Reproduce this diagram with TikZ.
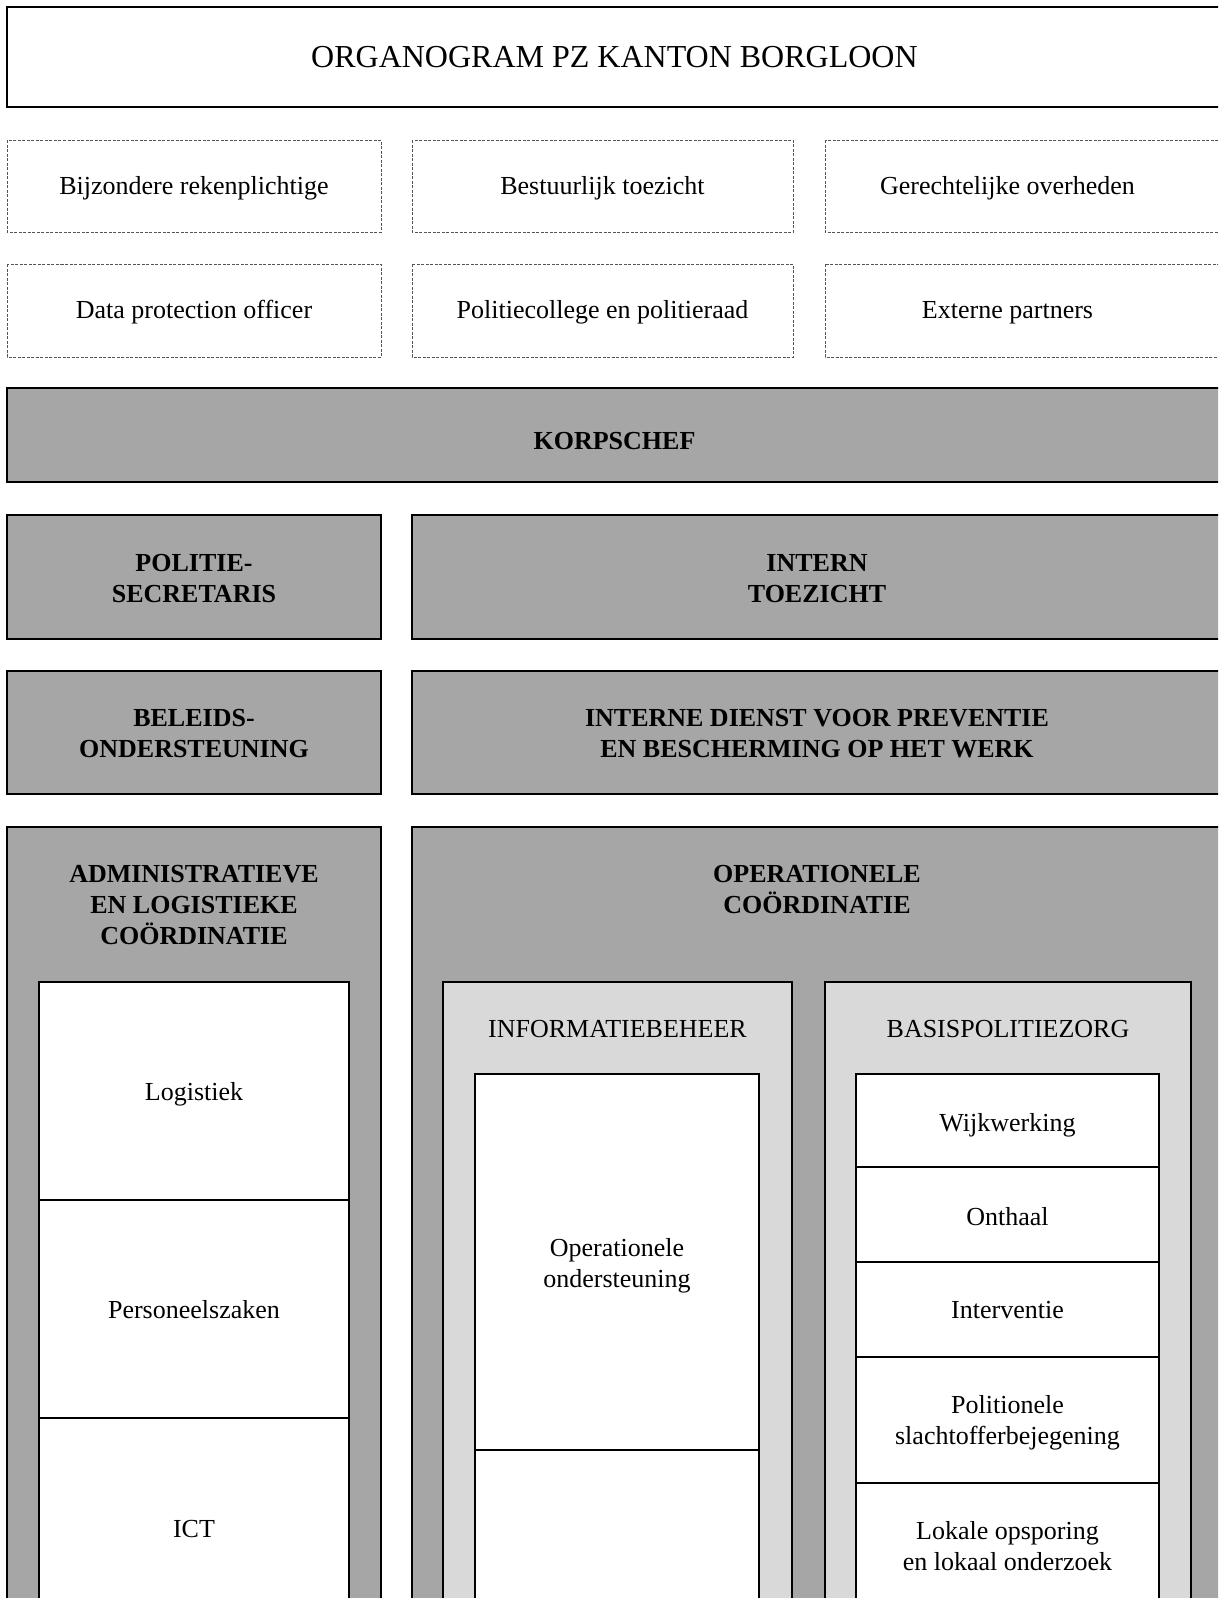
\documentclass[tikz,border=0pt]{standalone}
\usepackage{fontspec}
\setmainfont{Liberation Serif}
\definecolor{darkgrey}{RGB}{166,166,166}
\definecolor{lightgrey}{RGB}{217,217,217}
\definecolor{dashgrey}{RGB}{85,85,85}
\newcommand{\orgfont}{\fontsize{26}{31}\selectfont}
\tikzset{
    every node/.style={align=center, inner sep=0pt, font=\orgfont},
    bold/.style={font=\orgfont\bfseries},
    solidbox/.style={draw=black, line width=1.6pt},
    dashbox/.style={draw=dashgrey, line width=0.9pt, dash pattern=on 3pt off 1.5pt},
    darkbox/.style={solidbox, fill=darkgrey},
    lightbox/.style={solidbox, fill=lightgrey},
    whitebox/.style={solidbox, fill=white}
}

\begin{document}
\begin{tikzpicture}[x=1pt, y=-1pt]

    \useasboundingbox (0, 0) rectangle (1218, 1598);
    \clip (0, 0) rectangle (1218, 1598);

    % title
    \draw[solidbox] (7, 7) rectangle (1222, 107)
        node[midway, font=\fontsize{32}{38}\selectfont] (title)
        {ORGANOGRAM PZ KANTON BORGLOON};

    % outside partners
    \draw[dashbox] (7, 140) rectangle (381, 232)
        node[midway, yshift=-2pt] (rek) {Bijzondere rekenplichtige};
    \draw[dashbox] (412, 140) rectangle (793, 232)
        node[midway, yshift=-2pt] (bes) {Bestuurlijk toezicht};
    \draw[dashbox] (825, 140) rectangle (1222, 232);
    \node (ger) at (1007.5, 188) {Gerechtelijke overheden};

    \draw[dashbox] (7, 264) rectangle (381, 357)
        node[midway, yshift=-2pt] (dpo) {Data protection officer};
    \draw[dashbox] (412, 264) rectangle (793, 357)
        node[midway, yshift=-2pt] (pol) {Politiecollege en politieraad};
    \draw[dashbox] (825, 264) rectangle (1222, 357);
    \node (ext) at (1007.5, 312.5) {Externe partners};

    % leiding
    \draw[darkbox] (7, 388) rectangle (1222, 482)
        node[midway, bold, yshift=-6pt] (korps) {KORPSCHEF};

    \draw[darkbox] (7, 515) rectangle (381, 639)
        node[midway, bold, yshift=-1.5pt] (secr) {POLITIE-\\SECRETARIS};
    \draw[darkbox] (412, 515) rectangle (1222, 639)
        node[midway, bold, yshift=-1.5pt] (toez) {INTERN\\TOEZICHT};

    \draw[darkbox] (7, 671) rectangle (381, 794)
        node[midway, bold, yshift=-1.5pt] (bel) {BELEIDS-\\ONDERSTEUNING};
    \draw[darkbox] (412, 671) rectangle (1222, 794)
        node[midway, bold, yshift=-1.5pt] (idpb)
        {INTERNE DIENST VOOR PREVENTIE\\EN BESCHERMING OP HET WERK};

    % administratieve en logistieke coordinatie
    \draw[darkbox] (7, 827) rectangle (381, 1640);
    \node[bold] (alc) at (194, 905) {ADMINISTRATIEVE\\EN LOGISTIEKE\\COÖRDINATIE};

    \foreach \top/\bot/\dy/\name/\lbl in {982/1200/3/log/Logistiek,
            1200/1418/1/pers/Personeelszaken, 1418/1640/0/ict/ICT} {%
        \draw[whitebox] (39, \top) rectangle (349, \bot)
            node[midway, yshift=-\dy pt] (\name) {\lbl};
    };

    % operationele coordinatie
    \draw[darkbox] (412, 827) rectangle (1222, 1640);
    \node[bold] (oc) at (817, 890) {OPERATIONELE\\COÖRDINATIE};

    \draw[lightbox] (443, 982) rectangle (792, 1640);
    \node (info) at (617.5, 1029.5) {INFORMATIEBEHEER};
    \draw[whitebox] (475, 1074) rectangle (759, 1450)
        node[midway, yshift=-4pt] (opo) {Operationele\\ondersteuning};
    \draw[whitebox] (475, 1450) rectangle (759, 1640);

    \draw[lightbox] (825, 982) rectangle (1191, 1640);
    \node (bpz) at (1008, 1029.5) {BASISPOLITIEZORG};
    \foreach \top/\bot/\dy/\name/\lbl in {1074/1167/5/wijk/Wijkwerking,
            1167/1262/2/ont/Onthaal, 1262/1357/1/int/Interventie,
            1357/1483/3/slo/{Politionele\\slachtofferbejegening},
            1483/1610/0/lok/{Lokale opsporing\\en lokaal onderzoek}} {%
        \draw[whitebox] (856, \top) rectangle (1159, \bot)
            node[midway, yshift=-\dy pt] (\name) {\lbl};
    };

\end{tikzpicture}
\end{document}
